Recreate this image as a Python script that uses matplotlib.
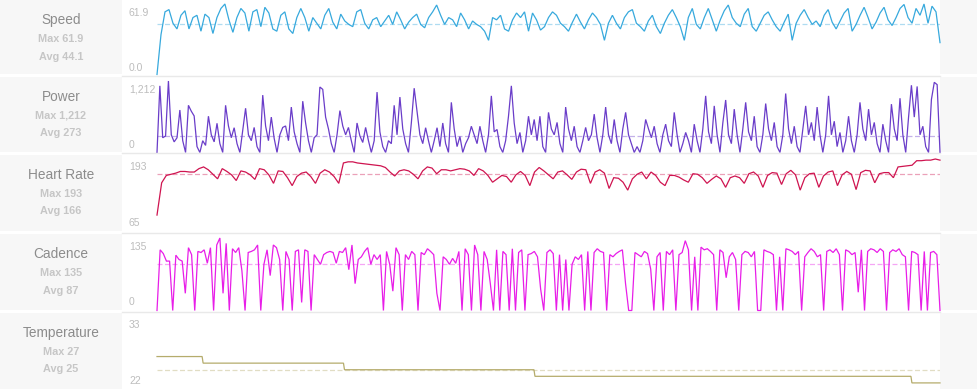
import numpy as np
import matplotlib.pyplot as plt
from matplotlib.patches import Rectangle

plt.rcParams['font.family'] = ['Liberation Sans', 'DejaVu Sans']

W, H = 978, 390

# ride samples
speed = [0, 35, 55, 57, 45, 40, 52, 56, 40, 50, 52, 38, 53, 50, 36, 50, 58, 61.9, 48, 37,
         50, 58, 54, 38, 55, 57, 42, 59, 54, 40, 38, 52, 55, 40, 36, 50, 58, 50, 38, 50,
         45, 40, 52, 58, 46, 40, 53, 47, 44, 42, 55, 57, 45, 40, 48, 50, 42, 47, 52, 44,
         55, 48, 40, 46, 50, 53, 44, 41, 50, 55, 61, 52, 44,
         50, 48, 42, 54, 48, 40, 47, 44, 42, 38, 30, 50, 48, 52, 40, 38, 48, 54, 50, 55,
         38, 54, 48, 39, 42, 50, 55, 52, 45, 42, 38, 46, 53, 46, 40, 48, 54, 50, 44, 30, 45,
         52, 45, 40, 50, 55, 57, 45, 42, 38, 47, 52, 42, 36, 45, 52, 57, 50, 42, 30, 50,
         58, 44, 40, 50, 58, 48, 38, 48, 56, 61, 50, 45, 42, 53, 58, 42, 38, 45, 52, 55,
         48, 42, 38, 46, 53, 30, 45, 52, 57, 50, 44, 47, 42, 52, 57, 46, 40, 47, 54, 58,
         38, 44, 52, 59, 50, 40, 46, 54, 59, 48, 43, 50, 58, 61.5, 50, 45, 58, 52, 61.9, 45,
         60, 55, 28]

power = [0, 1130, 250, 280, 1212, 300, 180, 250, 720, 200, 0, 800, 700, 620, 100, 0, 200, 120,
         615, 300, 180, 495, 150, 0, 800, 450, 250, 420, 150, 0, 380, 750, 300, 200, 425, 100,
         0, 973, 450, 200, 600, 240, 0, 300, 425, 450, 200, 770, 350, 150, 0, 870, 500, 200,
         0, 250, 300, 1110, 1070, 600, 400, 150, 0, 300, 710, 450, 300, 425, 200, 0, 500, 280,
         170, 425, 200, 0, 200, 1024, 350, 100, 0, 200, 150, 800, 300, 940, 400, 150, 0, 500,
         1090, 700, 300, 150, 420, 200, 0, 200, 420, 100,
         500, 150, 0, 850, 400, 100, 270, 0, 150, 250, 445, 300, 150, 445, 200, 0, 300, 960,
         350, 390, 100, 0, 200, 615, 1130, 500, 150, 340, 0, 200, 615, 300, 560, 200, 615, 100,
         0, 680, 400, 300, 510, 150, 0, 770, 400, 200, 445, 100, 0, 200, 425, 200, 300, 650, 250,
         0, 300, 770, 300, 150, 560, 200, 0, 400, 680, 300, 150, 0, 100, 0, 200, 560, 400,
         250, 445, 150, 0, 300, 480, 200, 100, 680, 300, 0, 150, 340, 200, 0, 480, 200, 0,
         400, 960, 350, 150, 790, 300, 0, 500, 890, 300, 150, 735, 300, 0, 400, 850, 350, 200,
         615, 100, 0, 300, 830, 400, 200, 510, 100, 0, 300, 1000, 400, 150, 445, 100, 0, 400,
         790, 300, 510, 200, 770, 300, 0, 300, 960, 300, 530, 100, 340, 0, 200, 615, 200, 0,
         300, 850, 400, 200, 735, 300, 510, 150, 0, 480, 200, 0, 820, 400, 200, 920, 300, 0,
         600, 1140, 600, 1120, 300, 445, 100, 0, 900, 1190, 1150, 0]

heart_rate = [94, 151, 164, 166, 168, 171, 171, 170, 170, 176, 179, 174, 166, 158, 176, 171, 165,
              155, 172, 170, 165, 157, 176, 174, 165, 150, 172, 171, 160, 146, 162, 168, 170,
              162, 150, 168, 174, 170, 162, 150, 186, 188, 188, 186, 185, 184, 183, 182, 181,
              178, 170, 163, 172, 174, 172, 166, 158, 172, 179, 177, 167, 174, 174, 172, 174,
              176, 175, 172, 164, 176, 172, 164, 152, 158, 164, 162, 152, 165, 171, 164, 146,
              170, 178, 172, 165, 158, 170, 172, 165, 157, 170, 175, 174, 150, 170, 174, 168,
              141, 160, 159, 152, 138, 158, 166, 170, 158, 170, 164, 152, 146, 164, 164, 161,
              156, 152, 167, 166, 160, 150, 157, 163, 158, 143, 160, 163, 160, 150, 167, 170,
              163, 143, 164, 169, 168, 148, 167, 173, 165, 138, 160, 167, 168, 143, 163, 170,
              172, 146, 165, 171, 166, 139, 169, 173, 172, 151, 167, 169, 169, 160, 179, 180,
              181, 182, 190, 190, 191, 191, 193, 191]

cadence = [0, 113, 106, 92, 92, 0, 103, 95, 92, 32, 117, 104, 0, 110, 108, 113, 88, 117, 0, 122,
           135, 32, 125, 0, 115, 108, 117, 74, 0, 108, 110, 113, 122, 0, 86, 113, 65, 122, 117,
           95, 0, 110, 95, 0, 110, 113, 15, 113, 110, 0, 104, 95, 86, 104, 108, 110, 108, 88,
           110, 108, 117, 76, 122, 50, 95, 100, 110, 117, 86, 104, 95, 104, 0, 110, 86, 36, 117,
           104, 0, 104, 95,
           110, 104, 0, 108, 104, 115, 110, 104, 32, 0, 100, 95, 86, 97, 88, 110, 0, 115, 104, 0,
           122, 104, 0, 110, 95, 50, 0, 113, 0, 110, 104, 0, 115, 0, 108, 113, 0, 104, 106, 110,
           100, 40, 0, 108, 113, 106, 0, 104, 0, 95, 0, 86, 100, 95, 104,
           0, 110, 0, 108, 115, 110, 108, 0, 104, 100, 106, 110, 113, 50, 0, 0, 108, 104, 100,
           110, 106, 77, 0, 100, 108, 0, 110, 104, 113, 0, 104, 108, 130, 113, 0, 100, 0, 118,
           113, 115, 110, 104, 0, 113, 108, 61, 100, 108, 95, 0, 104, 110, 108, 100, 110, 0, 0,
           113, 110, 108, 104, 0, 100, 0, 115, 113, 110, 104, 110, 0, 100, 108, 115, 110, 100,
           104, 0, 110, 113, 108, 115, 104, 0, 113, 110, 104, 108, 34, 113, 0, 110, 115, 113,
           108, 115, 110, 0, 108, 113, 110, 115, 104, 100, 0, 110, 108, 104, 0, 110, 0, 108,
           110, 104, 0]

# temperature only changes a few times: level and how long it held
temp_levels = [27, 26, 25, 24, 23]
temp_runs = [46, 141, 190, 376, 29]
temperature = np.repeat(temp_levels, temp_runs)

names = ['Speed', 'Power', 'Heart Rate', 'Cadence', 'Temperature']
max_text = ['61.9', '1,212', '193', '135', '27']
avg_text = ['44.1', '273', '166', '87', '25']
avg_vals = [44.1, 273, 166, 87, 25]
y_lo = [0, 0, 65, 0, 22]
y_hi = [61.9, 1212, 193, 135, 33]
lo_labels = ['0.0', '0', '65', '0', '22']
hi_labels = ['61.9', '1,212', '193', '135', '33']
colors = ['#37a9dd', '#6a3dc9', '#cf1450', '#e81ee8', '#b5ac6c']
series = [speed, power, heart_rate, cadence, temperature]

row_top = [0, 77, 155, 234, 313]
row_bottom = [75, 153, 232, 311, 390]


def fx(x):
    return x / W


def fy(y):
    return 1 - y / H


fig = plt.figure(figsize=(W / 100, H / 100), dpi=100)
fig.patch.set_facecolor('white')

for i, name in enumerate(names):
    top, bot = row_top[i], row_bottom[i]
    # grey label column and grey right margin
    fig.add_artist(Rectangle((0, fy(bot - 1)), fx(122), (bot - 1 - top) / H,
                             transform=fig.transFigure, fc='#f7f7f7', ec='none', zorder=0))
    fig.add_artist(Rectangle((fx(940), fy(bot - 1)), fx(W - 940), (bot - 1 - top) / H,
                             transform=fig.transFigure, fc='#f7f7f7', ec='none', zorder=0))
    if i > 0:
        fig.add_artist(plt.Line2D([fx(122), fx(940)], [fy(top - 1.5)] * 2,
                                  transform=fig.transFigure, color='#e9e9e9', lw=1.0))

    fig.text(fx(61), fy(top + 20), name, ha='center', va='center', fontsize=9.8, color='#8c8c8c')
    fig.text(fx(61), fy(top + 39), 'Max ' + max_text[i], ha='center', va='center',
             fontsize=7.8, color='#c6c6c6', fontweight='bold')
    fig.text(fx(61), fy(top + 56.5), 'Avg ' + avg_text[i], ha='center', va='center',
             fontsize=7.8, color='#c6c6c6', fontweight='bold')
    fig.text(fx(129), fy(top + 12.5), hi_labels[i], ha='left', va='center',
             fontsize=7.5, color='#bdbdbd')
    fig.text(fx(129), fy(top + 68), lo_labels[i], ha='left', va='center',
             fontsize=7.5, color='#bdbdbd')

    ax = fig.add_axes([fx(157), fy(bot - 0.5), fx(940) - fx(157), (bot - 0.5 - top - 4) / H])
    ax.set_axis_off()
    vals = series[i]
    t = np.arange(len(vals))
    ax.set_xlim(0, len(vals) - 1)
    ax.set_ylim(y_lo[i], y_hi[i])
    ax.axhline(avg_vals[i], color=colors[i], lw=0.9, alpha=0.4, ls=(0, (4, 2)))
    ax.plot(t, vals, color=colors[i], lw=0.9, clip_on=False, solid_joinstyle='miter')

fig.savefig('out.png', dpi=100)
